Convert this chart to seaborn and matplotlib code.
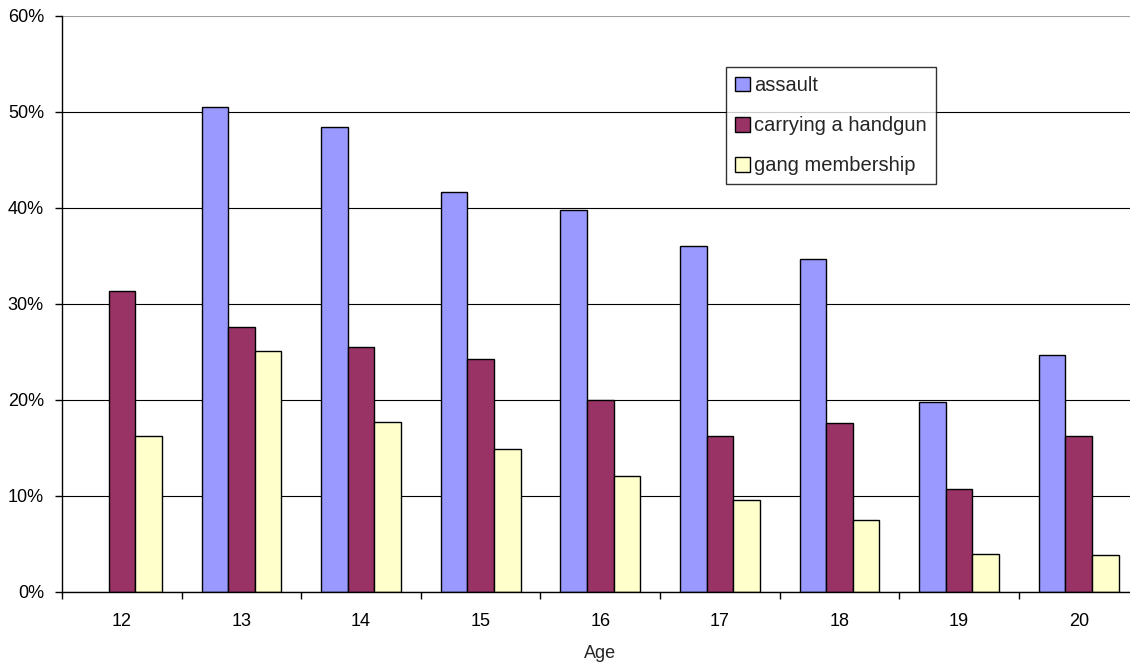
import numpy as np
import pandas as pd
import matplotlib
matplotlib.use("Agg")
import matplotlib.pyplot as plt
import seaborn as sns
from matplotlib.ticker import PercentFormatter, FixedLocator

ages = ["12", "13", "14", "15", "16", "17", "18", "19", "20"]
series = ["assault", "carrying a handgun", "gang membership"]
assault = [np.nan, 50.5, 48.4, 41.7, 39.8, 36.0, 34.7, 19.8, 24.7]
handgun = [31.4, 27.6, 25.5, 24.3, 20.0, 16.2, 17.6, 10.7, 16.2]
gang = [16.3, 25.1, 17.7, 14.9, 12.1, 9.6, 7.5, 4.0, 3.9]
colors = ["#9999FF", "#993366", "#FFFFCC"]

df = pd.DataFrame({
    "Age": ages * 3,
    "value": assault + handgun + gang,
    "series": [s for s in series for _ in ages],
})

sns.set_style("white")
plt.rcParams["font.family"] = ["Liberation Sans", "DejaVu Sans"]

fig = plt.figure(figsize=(11.3, 6.63), dpi=100)
ax = fig.add_axes([62 / 1130, 1 - 592 / 663, (1138.6 - 62) / 1130, (592 - 16) / 663])

sns.barplot(data=df, x="Age", y="value", hue="series", hue_order=series,
            order=ages, palette=colors, width=0.667, edgecolor="black",
            linewidth=1.0, errorbar=None, ax=ax, saturation=1)

ax.set_xlim(-0.5, len(ages) - 0.5)
ax.set_ylim(0, 60)
ax.set_yticks(np.arange(0, 61, 10))
ax.yaxis.set_major_formatter(PercentFormatter(decimals=0))
ax.yaxis.grid(True, color="black", linewidth=0.8)
ax.set_axisbelow(True)
gl = ax.yaxis.get_gridlines()
gl[-1].set_color("#a0a0a0")

for s in ["top", "right"]:
    ax.spines[s].set_visible(False)
ax.spines["left"].set_color("black")
ax.spines["bottom"].set_color("black")
ax.spines["left"].set_linewidth(1.0)
ax.spines["bottom"].set_linewidth(1.0)

ax.tick_params(axis="x", which="major", length=0, pad=15, labelsize=13, colors="black")
ax.xaxis.set_minor_locator(FixedLocator(np.arange(-0.5, len(ages), 1.0)))
ax.tick_params(axis="x", which="minor", length=5, width=1, color="black", direction="out", bottom=True)
ax.tick_params(axis="y", which="major", length=5, width=1, color="black", direction="out", left=True,
               labelsize=13, labelcolor="black", pad=8)

ax.set_xlabel("Age", fontsize=13, labelpad=11)
ax.set_ylabel("")

leg = ax.legend(loc="upper left", bbox_to_anchor=((726 - 62) / 1076.6, (592 - 67) / 576),
                frameon=True, fancybox=False, edgecolor="black", fontsize=14.5,
                handlelength=0.75, handleheight=0.75, handletextpad=0.2,
                labelspacing=1.05, borderpad=0.45, borderaxespad=0, title=None)
leg.get_frame().set_linewidth(1.0)

fig.savefig("out.png", dpi=100)
